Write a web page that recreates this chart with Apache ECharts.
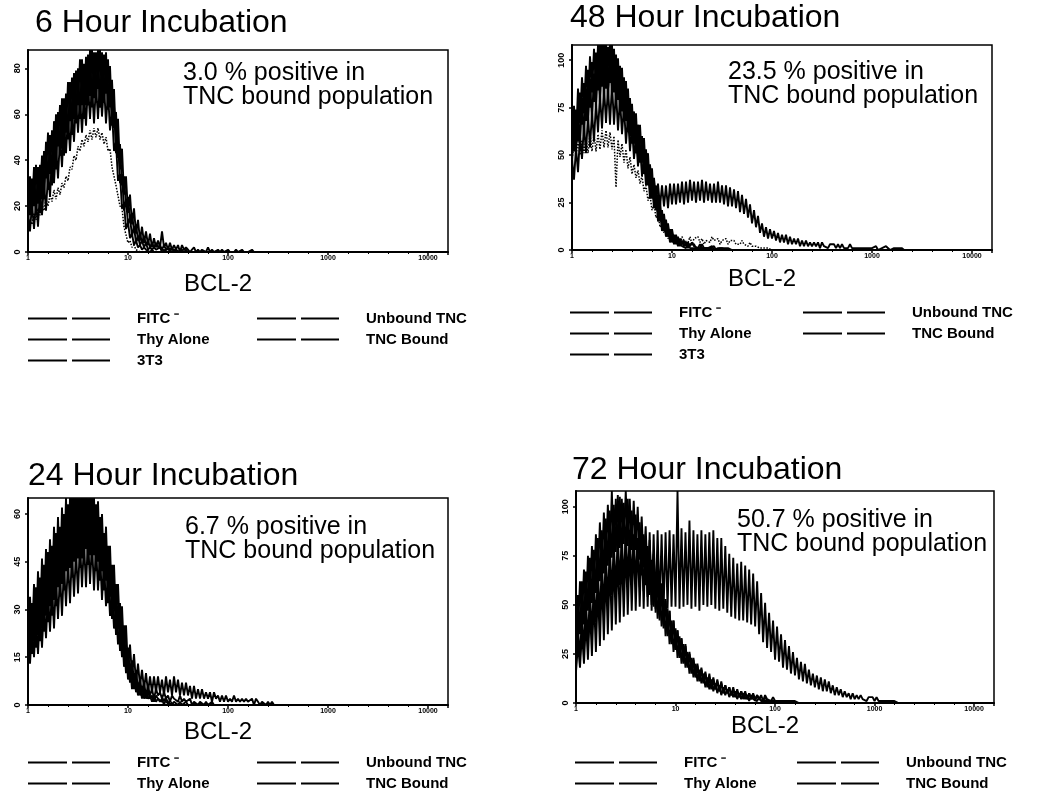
<!DOCTYPE html>
<html><head><meta charset="utf-8">
<script src="https://cdn.jsdelivr.net/npm/echarts@6/dist/echarts.min.js"></script>
<style>html,body{margin:0;padding:0;background:#fff}#c{width:1040px;height:803px}</style>
</head><body><div id="c"></div>
<script>
// ---------- text ----------
const panelTitles = ['6 Hour Incubation', '48 Hour Incubation', '24 Hour Incubation', '72 Hour Incubation'];
const positivePct = ['3.0', '23.5', '6.7', '50.7'];
const xAxisName = 'BCL-2';
const xTickLabels = ['1', '10', '100', '1000', '10000'];   // log decades 10^0..10^4
const binWidth = 0.02;                                     // decades per histogram bin
const yAxisMax = [88, 108, 65, 108];
const yAxisStep = [20, 25, 15, 25];

// ---------- 6 hour ----------
const h6_fitc    = [17,9,21,10,22,11,27,16,30,18,34,24,42,30,46,32,50,37,56,43,59,44,61,48,67,52,68,52,69,55,73,58,73,56,73,58,75,59,73,56,70,53,62,44,48,31,34,19,21,10,13,6,8,3,5,2,3,1,2,1,1,0,1,0];
const h6_thy     = [13,29,16,33,16,32,17,40,24,43,27,47,29,50,36,60,42,62,42,65,51,71,51,71,56,78,59,78,58,79,64,83,63,82,65,84,63,82,65,82,62,75,55,64,43,49,30,34,18,23,12,15,7,11,4,7,3,5,2,4,1,2,1,2,1,1,2,0,1,1,0,1,0,1,0,0];
const h6_3t3     = [10,14,12,17,14,19,16,21,18,23,20,25,22,27,23,28,25,30,28,33,31,37,36,42,40,46,44,49,46,51,48,53,49,54,50,54,49,52,47,50,44,45,37,37,29,29,20,19,11,11,4,5,2,3,1,1,0,0];
const h6_unbound = [32,16,32,20,38,21,38,23,44,32,52,34,53,37,60,46,64,45,67,52,74,57,76,58,79,64,84,64,82,64,86,68,88,67,87,71,88,66,86,69,84,63,75,54,61,41,47,29,33,20,24,14,17,9,12,5,8,4,7,3,5,2,4,2,4,2,3,1,3,1,2,1,2,0,1,1,0,1,0,1,0];
const h6_bound   = [14,33,18,37,17,37,22,42,23,48,30,51,31,57,39,61,42,67,49,69,49,74,55,78,58,80,58,84,63,85,64,88,64,87,67,88,63,87,65,87,63,81,57,71,47,58,36,45,25,33,17,25,12,19,8,14,5,11,4,9,3,8,2,6,2,5,2,9,2,4,1,4,1,3,1,3,0,3,1,2,1,
                    0,1,2,0,1,0,1,1,0,2,0,1,0,0,1,0,1,0,0,1,0,0,0,1,0,0,1,0,0,0,0,1,0,0,0,0,0,0,0,0,0,0,0,0,0];

// ---------- 48 hour ----------
const h48_fitc    = [48,37,54,41,60,48,66,51,71,54,73,57,78,62,82,64,86,67,86,66,88,66,84,63,80,61,76,56,71,52,65,48,60,44,55,39,49,34,42,27,35,22,29,15,21,10,15,7,12,4,8,3,6,2,5,2,3,1,3,1,2,1,2,1,1,1,0,1,0,1,0,0,0,0,0];
const h48_thy     = [45,69,51,75,55,80,59,85,66,90,68,93,74,98,77,102,80,103,79,103,82,102,76,97,72,92,68,86,62,78,56,72,51,66,46,60,40,52,34,45,27,37,21,29,15,21,10,16,7,11,4,8,3,7,2,5,2,4,1,3,2,3,1,2,1,3,1,2,1,1,2,0,1,1,0,1,0,0,1,0,0];
const h48_3t3     = [48,55,50,57,50,58,51,59,51,61,52,61,52,61,53,63,54,63,54,62,53,60,33,58,49,56,46,53,43,49,40,45,38,42,35,39,31,34,26,29,21,24,17,19,12,14,9,11,6,8,5,
                     7,4,6,3,7,5,6,4,7,3,6,5,7,4,6,3,5,6,4,7,5,4,6,3,5,4,6,3,5,4,5,3,4,3,5,3,4,2,4,2,3,2,3,1,2,1,2,1,1,0];
const h48_unbound = [70,52,74,57,83,66,88,68,95,75,99,78,104,84,108,86,108,85,107,88,108,83,103,79,97,73,91,68,85,60,77,56,72,49,66,46,59,39,51,32,43,25,34,19,26,13,19,9,14,6,11,5,8,3,6,3,5,2,4,2,4,2,3,1,3,1,2,1,2,1,1,2,0,1,1,0,1,0,1,0,0];
const h48_bound   = [53,76,58,85,67,91,72,97,76,102,83,106,84,108,85,108,87,108,84,108,86,106,80,101,77,96,70,89,64,80,57,73,51,66,47,60,41,53,35,45,
                     28,38,24,35,23,34,23,34,22,35,24,35,24,35,25,36,24,36,25,37,26,36,25,36,26,37,25,36,26,35,25,35,25,36,25,34,24,34,23,33,
                     23,32,22,31,20,29,19,27,17,24,14,21,12,18,9,14,7,12,6,11,6,10,5,9,4,8,4,8,3,7,3,6,3,6,2,5,2,5,2,4,
                     2,4,2,4,1,4,2,3,1,3,2,3,1,3,1,3,1,2,1,3,1,2,1,2,1,2,1,2,1,2,1,1,2,0,1,1,0,2,1,0,1,1,0,1,0,1,0];

// ---------- 24 hour ----------
const h24_fitc    = [21,13,24,15,27,16,29,18,32,21,35,23,37,24,39,27,41,28,44,31,45,32,48,34,48,35,51,37,51,37,53,38,51,36,50,36,48,33,45,31,41,28,36,24,31,19,25,15,20,10,14,7,11,5,8,3,6,2,5,2,4,2,3,1,3,2,2,1,2,1,1,0,1];
const h24_thy     = [14,28,16,32,18,36,20,39,23,43,26,46,28,49,31,52,34,55,36,58,39,60,40,62,42,64,43,65,45,65,44,65,44,63,42,60,39,55,36,50,32,44,27,37,22,31,17,24,12,18,8,13,5,10,4,7,3,6,2,4,2,3,1,3,1,2,1,2,0,2,1,1,0,1,1,0,1,0,0,1,0];
const h24_unbound = [28,16,32,20,37,22,40,24,44,28,48,31,50,33,54,37,56,38,60,42,63,43,65,45,65,46,65,46,65,49,65,47,65,47,63,45,59,42,54,39,50,34,44,30,38,24,32,19,25,13,18,10,14,7,11,5,8,4,7,3,6,
                     3,5,2,5,3,4,2,4,2,3,1,3,2,2,1,3,1,2,1,1,2,0,1,1,0,1,1,0,1,0,0,1,0,0,0];
const h24_bound   = [18,34,20,38,22,42,25,46,28,49,30,52,33,56,37,59,38,62,42,65,43,65,46,65,46,65,46,65,48,65,47,65,47,65,46,64,43,60,41,56,37,50,31,44,27,38,22,31,16,25,11,19,9,16,7,13,6,11,5,10,4,9,4,9,4,9,4,8,3,9,4,8,3,9,4,8,3,7,3,7,3,6,2,6,2,5,2,5,2,4,2,4,1,4,2,3,1,3,1,3,1,2,1,3,1,2,1,2,1,2,1,1,2,0,2,1,0,1,1,0,1,0,1,0,0,0];

// ---------- 72 hour ----------
const h72_fitc    = [30,55,35,62,40,67,47,74,51,78,56,84,62,88,66,94,70,98,74,101,77,106,79,104,81,108,80,104,78,103,78,100,73,95,69,90,63,83,57,76,52,69,45,61,40,53,35,47,31,42,27,37,23,33,20,29,18,25,15,22,13,19,11,17,10,15,8,13,7,12,7,11,6,10,5,9,5,8,4,7,3,6,3,6,2,5,2,5,2,4,1,4,2,3,1,3,1,2,1,2,1,2,1,1,1,1,0,1,0,1,0];
const h72_thy     = [55,36,62,41,68,46,75,52,80,56,86,62,92,67,97,71,101,74,108,76,104,78,105,76,102,77,104,76,98,72,96,70,92,65,86,60,80,55,73,49,66,43,59,39,53,34,48,30,42,26,38,23,34,20,30,18,26,15,23,13,20,11,17,10,15,8,13,7,12,6,10,5,9,4,8,4,7,3,6,3,6,2,5,2,5,2,4,1,4,2,3,1,3,1,2,1,2,1,1,1,1,0,1,0,1,0];
const h72_unbound = [19,38,23,45,27,52,31,57,35,62,41,67,44,72,48,76,51,80,55,82,57,86,60,86,60,88,62,87,61,86,61,84,59,81,57,78,54,74,50,68,46,63,42,58,38,52,34,47,30,42,27,37,24,33,21,30,19,26,17,23,14,20,12,18,11,16,9,15,8,13,7,12,6,11,5,9,5,8,4,8,3,7,3,6,3,6,2,5,2,5,2,4,2,4,1,4,2,3,1,3,1,2,1,2,1,2,1,1,1,0,1,1,0,1,0,0];
const h72_bound   = [16,30,18,36,20,42,22,48,24,54,26,59,29,64,32,68,35,72,37,74,40,77,41,78,44,82,45,82,47,84,47,84,49,86,48,85,49,87,47,86,
                     48,88,49,86,47,87,48,88,49,86,49,108,48,89,49,87,50,93,48,88,49,86,47,88,50,86,49,87,50,88,48,84,47,84,48,80,46,76,44,74,
                     43,71,42,72,42,70,41,68,40,66,39,62,35,56,31,51,28,46,26,42,22,39,21,35,18,32,17,29,15,26,14,23,12,21,11,20,10,17,9,15,
                     8,14,7,13,6,12,6,11,5,9,4,8,4,7,3,6,3,5,2,5,2,4,2,4,2,3,1,3,2,3,1,3,1,2,1,2,1,2,1,1,1,1,0,1,0,1,0];

const panelSeries = [
  [['FITC ⁻', h6_fitc], ['Thy Alone', h6_thy], ['3T3', h6_3t3], ['Unbound TNC', h6_unbound], ['TNC Bound', h6_bound]],
  [['FITC ⁻', h48_fitc], ['Thy Alone', h48_thy], ['3T3', h48_3t3], ['Unbound TNC', h48_unbound], ['TNC Bound', h48_bound]],
  [['FITC ⁻', h24_fitc], ['Thy Alone', h24_thy], ['Unbound TNC', h24_unbound], ['TNC Bound', h24_bound]],
  [['FITC ⁻', h72_fitc], ['Thy Alone', h72_thy], ['Unbound TNC', h72_unbound], ['TNC Bound', h72_bound]]
];

// ---------- layout (positions / styles) ----------
const FONT = 'Liberation Sans, Arial, Helvetica, sans-serif';
const layout = [
  { grid: {left: 28,  top: 50,  width: 420, height: 202}, title: [35, 7],   note: [183, 61],  nameGap: 20, leg1: [28, 311],  leg2: [257, 311] },
  { grid: {left: 572, top: 45,  width: 420, height: 205}, title: [570, 2],  note: [728, 60],  nameGap: 17, leg1: [570, 305], leg2: [803, 305] },
  { grid: {left: 28,  top: 498, width: 420, height: 207}, title: [28, 460], note: [185, 515], nameGap: 15, leg1: [28, 755],  leg2: [257, 755] },
  { grid: {left: 576, top: 491, width: 418, height: 212}, title: [572, 454],note: [737, 508], nameGap: 9,  leg1: [575, 755], leg2: [797, 755] }
];
const legendIcon = 'path://M0,0h39v2h-39zM44,0h38v2h-38z';

const grids = [], xAxes = [], yAxes = [], series = [], titles = [], legends = [];
layout.forEach((L, p) => {
  grids.push(Object.assign({show: true, borderColor: '#000', borderWidth: 1.5, backgroundColor: 'transparent', outerBoundsMode: 'none', containLabel: false}, L.grid));
  xAxes.push({
    type: 'value', gridIndex: p, min: 0, max: 4.2, interval: 1,
    name: xAxisName, nameLocation: 'middle', nameGap: L.nameGap,
    nameTextStyle: {fontSize: 24, fontFamily: FONT, color: '#000', padding: [0, 40, 0, 0]},
    axisLine: {show: true, onZero: false, lineStyle: {color: '#000', width: 2}},
    axisTick: {show: true, length: 3, lineStyle: {color: '#000', width: 1.5}},
    minorTick: {show: true, splitNumber: 5, length: 2, lineStyle: {color: '#000', width: 1}},
    axisLabel: {fontSize: 7, color: '#000', margin: 3, fontFamily: FONT, fontWeight: 'bold', showMaxLabel: false,
      formatter: v => (Number.isInteger(v) && xTickLabels[v] !== undefined) ? xTickLabels[v] : ''},
    splitLine: {show: false}
  });
  yAxes.push({
    type: 'value', gridIndex: p, min: 0, max: yAxisMax[p], interval: yAxisStep[p],
    axisLine: {show: true, onZero: false, lineStyle: {color: '#000', width: 2}},
    axisTick: {show: true, length: 3, lineStyle: {color: '#000', width: 1.5}},
    axisLabel: {fontSize: 9, rotate: 90, color: '#000', margin: 6, fontFamily: FONT, fontWeight: 'bold', showMaxLabel: false},
    splitLine: {show: false}
  });
  panelSeries[p].forEach(([name, vals]) => {
    series.push({
      type: 'line', name, xAxisIndex: p, yAxisIndex: p,
      data: vals.map((v, i) => [+(i * binWidth).toFixed(3), v]),
      showSymbol: false, symbol: 'none', smooth: false,
      lineStyle: {color: '#000', width: name === '3T3' ? 1.5 : 1.9, type: name === '3T3' ? 'dotted' : 'solid'},
      itemStyle: {color: '#000'},
      emphasis: {disabled: true}, silent: true, animation: false, clip: true
    });
  });
  titles.push({text: panelTitles[p], left: L.title[0], top: L.title[1], padding: 0,
    textStyle: {fontSize: 32, fontWeight: 'normal', fontFamily: FONT, color: '#000'}});
  titles.push({text: positivePct[p] + ' % positive in\nTNC bound population', left: L.note[0], top: L.note[1], padding: 0,
    textStyle: {fontSize: 25, lineHeight: 24, fontWeight: 'normal', fontFamily: FONT, color: '#000'}});
  const names = panelSeries[p].map(s => s[0]);
  const col1 = names.filter(n => n === 'FITC ⁻' || n === 'Thy Alone' || n === '3T3');
  const col2 = names.filter(n => n === 'Unbound TNC' || n === 'TNC Bound');
  [[col1, L.leg1], [col2, L.leg2]].forEach(([data, pos]) => {
    legends.push({
      data, orient: 'vertical', left: pos[0], top: pos[1], padding: 0,
      icon: legendIcon, itemWidth: 82, itemHeight: 2, itemGap: 6, selectedMode: false, symbolKeepAspect: false,
      itemStyle: {color: '#000', borderWidth: 0},
      textStyle: {fontSize: 15, lineHeight: 14, height: 14, fontWeight: 'bold', fontFamily: FONT, color: '#000', padding: [0, 0, 0, 22]}
    });
  });
});

const chart = echarts.init(document.getElementById('c'), null, {renderer: 'canvas'});
chart.setOption({
  backgroundColor: '#fff', animation: false,
  title: titles, legend: legends, grid: grids, xAxis: xAxes, yAxis: yAxes, series
});
</script>
</body></html>
